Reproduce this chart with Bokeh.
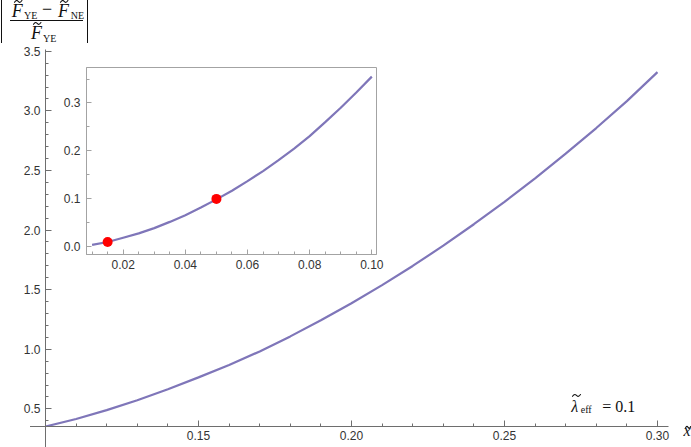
from bokeh.plotting import figure
from bokeh.models import Range1d, FixedTicker, Label, PrintfTickFormatter, Div
from bokeh.layouts import column
from bokeh.embed import file_html
from bokeh.resources import INLINE

# ---------------- data ----------------
x_main = [0.10, 0.11, 0.12, 0.13, 0.14, 0.15, 0.16, 0.17, 0.18, 0.19, 0.20,
          0.21, 0.22, 0.23, 0.24, 0.25, 0.26, 0.27, 0.28, 0.29, 0.30]
y_main = [0.352, 0.415, 0.489, 0.572, 0.664, 0.764, 0.868, 0.982, 1.108, 1.243, 1.386,
          1.538, 1.699, 1.869, 2.049, 2.237, 2.434, 2.641, 2.856, 3.082, 3.325]

x_main_ticks = [0.15, 0.20, 0.25, 0.30]
x_main_tick_labels = ["0.15", "0.20", "0.25", "0.30"]
x_main_minor = [0.11, 0.12, 0.13, 0.14, 0.16, 0.17, 0.18, 0.19, 0.21, 0.22, 0.23, 0.24,
                0.26, 0.27, 0.28, 0.29]
y_main_ticks = [0.5, 1.0, 1.5, 2.0, 2.5, 3.0, 3.5]
y_main_tick_labels = ["0.5", "1.0", "1.5", "2.0", "2.5", "3.0", "3.5"]
y_main_minor = [0.4, 0.6, 0.7, 0.8, 0.9, 1.1, 1.2, 1.3, 1.4, 1.6, 1.7, 1.8, 1.9,
                2.1, 2.2, 2.3, 2.4, 2.6, 2.7, 2.8, 2.9, 3.1, 3.2, 3.3, 3.4]

x_inset = [0.010, 0.015, 0.020, 0.025, 0.030, 0.035, 0.040, 0.045, 0.050, 0.055, 0.060,
           0.065, 0.070, 0.075, 0.080, 0.085, 0.090, 0.095, 0.100]
y_inset = [0.004, 0.010, 0.019, 0.028, 0.039, 0.052, 0.066, 0.082, 0.099, 0.117, 0.137,
           0.158, 0.181, 0.205, 0.231, 0.260, 0.290, 0.322, 0.355]
x_points = [0.015, 0.05]
y_points = [0.010, 0.100]

x_inset_ticks = [0.02, 0.04, 0.06, 0.08, 0.10]
x_inset_tick_labels = ["0.02", "0.04", "0.06", "0.08", "0.10"]
x_inset_minor = [0.010, 0.015, 0.025, 0.030, 0.035, 0.045, 0.050, 0.055, 0.065, 0.070,
                 0.075, 0.085, 0.090, 0.095]
y_inset_ticks = [0.0, 0.1, 0.2, 0.3]
y_inset_tick_labels = ["0.0", "0.1", "0.2", "0.3"]
y_inset_minor = [0.05, 0.15, 0.25, 0.35]

# ---------------- styles ----------------
AXIS = "#6e6e6e"
LABEL = "#333333"
CURVE = "#7f76b9"
FRAME = "#a3a3a3"
SANS = "Liberation Sans"
SERIF = "Liberation Serif"
INK = "#111111"
W, H = 691, 447


def style_axis(ax, color, tin, tmin, standoff):
    ax.axis_line_color = color
    ax.major_tick_line_color = color
    ax.minor_tick_line_color = color
    ax.major_tick_in = tin
    ax.major_tick_out = 0
    ax.minor_tick_in = tmin
    ax.minor_tick_out = 0
    ax.major_label_text_font = SANS
    ax.major_label_text_font_size = "12px"
    ax.major_label_text_color = LABEL
    ax.major_label_standoff = standoff


def lab(fig, x, y, text, size, italic=False, align="left", font=SERIF, color=INK):
    fig.add_layout(Label(x=x, y=y, x_units="screen", y_units="screen", text=text,
                         text_font=font, text_font_size=f"{size}px",
                         text_font_style="italic" if italic else "normal",
                         text_align=align, text_baseline="alphabetic", text_color=color))


# ---------------- main figure ----------------
p = figure(width=W, height=H, x_range=Range1d(0.1, 0.3036), y_range=Range1d(0.352, 3.515),
           output_backend="svg", toolbar_location=None,
           min_border_left=45, min_border_right=23, min_border_top=49, min_border_bottom=21)
p.xgrid.visible = False
p.ygrid.visible = False
p.outline_line_color = None

p.xaxis.ticker = FixedTicker(ticks=x_main_ticks, minor_ticks=x_main_minor)
p.xaxis.formatter = PrintfTickFormatter(format="%.2f")
p.xaxis.major_label_overrides = dict(zip(x_main_ticks, x_main_tick_labels))
p.yaxis.ticker = FixedTicker(ticks=y_main_ticks, minor_ticks=y_main_minor)
p.yaxis.formatter = PrintfTickFormatter(format="%.1f")
p.yaxis.major_label_overrides = dict(zip(y_main_ticks, y_main_tick_labels))
style_axis(p.xaxis[0], AXIS, 6, 3, 4)
style_axis(p.yaxis[0], AXIS, 6, 3, 5)

p.line(x_main, y_main, line_color=CURVE, line_width=2.2)

# annotation  lambda~_eff = 0.1  (inside the frame, frame-relative screen units)
lab(p, 525.7, 20, "\u03bb", 16, italic=True)
lab(p, 535.2, 17.5, "eff", 10)
lab(p, 556.7, 20, "= 0.1", 16)

# ---------------- inset ----------------
q = figure(width=358, height=216, x_range=Range1d(0.0082, 0.1015), y_range=Range1d(-0.016, 0.374),
           output_backend="svg", toolbar_location=None,
           min_border_left=42, min_border_right=12, min_border_top=5, min_border_bottom=24)
q.xgrid.visible = False
q.ygrid.visible = False
q.outline_line_color = FRAME
q.border_fill_alpha = 0
q.background_fill_color = "white"
q.xaxis.ticker = FixedTicker(ticks=x_inset_ticks, minor_ticks=x_inset_minor)
q.xaxis.formatter = PrintfTickFormatter(format="%.2f")
q.xaxis.major_label_overrides = dict(zip(x_inset_ticks, x_inset_tick_labels))
q.yaxis.ticker = FixedTicker(ticks=y_inset_ticks, minor_ticks=y_inset_minor)
q.yaxis.formatter = PrintfTickFormatter(format="%.1f")
q.yaxis.major_label_overrides = dict(zip(y_inset_ticks, y_inset_tick_labels))
style_axis(q.xaxis[0], FRAME, 5, 3, 5)
style_axis(q.yaxis[0], FRAME, 5, 3, 6)

q.line(x_inset, y_inset, line_color=CURVE, line_width=2.2)
q.scatter(x_points, y_points, size=10, fill_color="#ff0000", line_color=None)
q.styles = {"position": "absolute", "left": "41px", "top": "62px"}


# ---------------- HTML pieces for the texts outside the frames ----------------
def span(left, top, text, size, italic=False, width=None):
    st = (f"position:absolute;left:{left}px;top:{top}px;font-size:{size}px;"
          f"line-height:{size}px;white-space:nowrap;margin:0;padding:0;"
          f"font-style:{'italic' if italic else 'normal'};")
    if width is not None:
        st += f"width:{width}px;text-align:center;"
    return f'<span style="{st}">{text}</span>'


def rule(left, top, w, h, color):
    return (f'<div style="position:absolute;left:{left}px;top:{top}px;width:{w}px;'
            f'height:{h}px;background:{color};margin:0;padding:0;"></div>')


def accent(left, top, w, h):
    # tilde accent drawn as a small stroke (decoration, not text)
    d = (f"M0.5,{h - 0.5} C{0.3 * w:.2f},{-0.3 * h:.2f} {0.42 * w:.2f},{0.3 * h:.2f} "
         f"{0.5 * w:.2f},{0.5 * h:.2f} C{0.58 * w:.2f},{0.7 * h:.2f} {0.7 * w:.2f},{1.3 * h:.2f} "
         f"{w - 0.5:.2f},0.5")
    return (f'<svg style="position:absolute;left:{left}px;top:{top}px;overflow:visible" '
            f'width="{w}" height="{h}"><path d="{d}" fill="none" stroke="{INK}" '
            f'stroke-width="1.1" stroke-linecap="round"/></svg>')


def wrap(inner, w, h):
    return (f'<div style="position:relative;width:{w}px;height:{h}px;margin:0;padding:0;'
            f"font-family:'{SERIF}';color:{INK};\">{inner}</div>")


def overlay_div(html, left, top, w, h):
    return Div(text=html, width=w, height=h, margin=0,
               styles={"position": "absolute", "left": f"{left}px", "top": f"{top}px",
                       "overflow": "visible"})


# y-axis title  |(F~YE - F~NE) / F~YE|
title_parts = [
    rule(1, 0, 1, 43, INK), rule(87, 0, 1, 43, INK),
    span(11.7, 2.2, "F", 18, italic=True), accent(13.8, 0.2, 8.4, 2.8),
    span(24, 10.6, "YE", 10),
    span(37, 0.2, "\u2212", 18, width=20),
    span(58, 2.2, "F", 18, italic=True), accent(60.1, 0.2, 8.4, 2.8),
    span(70.7, 10.6, "NE", 10),
    rule(10, 20, 73, 1, INK),
    span(31, 24.2, "F", 18, italic=True), accent(33.1, 22.0, 8.4, 2.8),
    span(43, 33.9, "YE", 10),
]
title_div = overlay_div(wrap("".join(title_parts), 100, 48), 0, 0, 100, 48)

# x-axis title  x~
xl_parts = [span(13.5, 6.6, "x", 16, italic=True), accent(14.6, 9.8, 6.2, 2.6)]
xl_div = overlay_div(wrap("".join(xl_parts), 21, 31), 670, 416, 21, 31)

# tilde accent of the lambda in the annotation
lam_div = overlay_div(wrap(accent(3.7, 2.3, 9, 2.8), 16, 8), 568, 388, 16, 8)

# Mathematica-style axis overhangs (x axis left of the y axis, y axis below the x axis)
oh_parts = [rule(2, 9.5, 15, 1, AXIS), rule(16.5, 10, 1, 21, AXIS)]
oh_div = overlay_div(wrap("".join(oh_parts), 22, 31), 28, 416, 22, 31)

layout = column(p, q, title_div, xl_div, lam_div, oh_div)
open("out.html", "w").write(file_html(layout, INLINE))
